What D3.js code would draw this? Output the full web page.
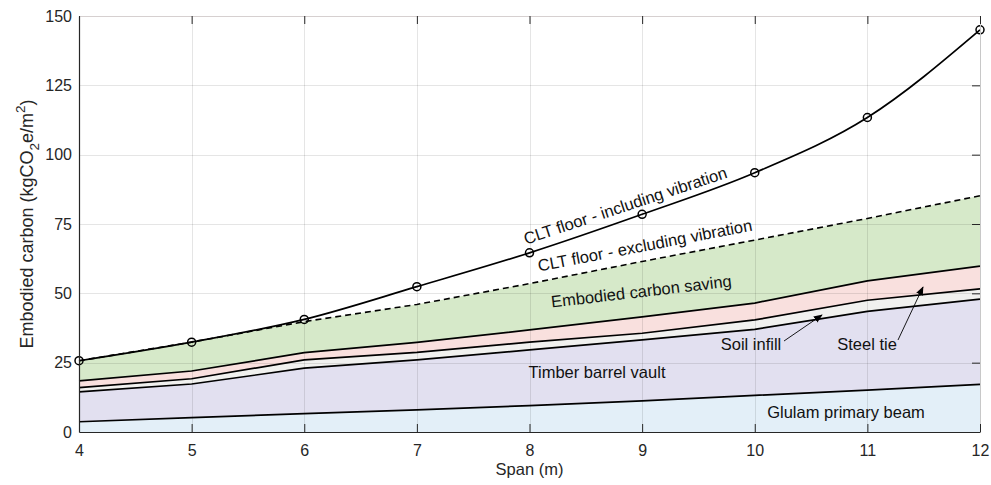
<!DOCTYPE html>
<html>
<head>
<meta charset="utf-8">
<script src="https://cdn.jsdelivr.net/npm/d3@7"></script>
<style>
  html, body { margin: 0; padding: 0; background: #fff; }
  svg { display: block; font-family: Arial, "Liberation Sans", sans-serif; }
</style>
</head>
<body>
<svg id="chart" width="991" height="485"></svg>
<script>
// ---- Data ----
const spans = [4, 5, 6, 7, 8, 9, 10, 11, 12];
const glulamBeam   = [3.7, 5.2, 6.6, 8.0, 9.5, 11.2, 13.2, 15.1, 17.2];
const timberVault  = [10.8, 12.1, 16.4, 18.0, 20.1, 22.0, 23.8, 28.4, 30.7];
const soilInfill   = [1.5, 1.9, 3.0, 2.7, 2.8, 2.4, 3.4, 4.0, 3.7];
const steelTie     = [2.4, 2.8, 2.6, 3.6, 4.4, 5.9, 6.1, 7.0, 8.2];
const cltExcluding = [25.7, 32.4, 39.8, 46.0, 53.5, 61.5, 69.2, 77.0, 85.2];
const cltIncluding = [25.7, 32.4, 40.6, 52.4, 64.6, 78.5, 93.5, 113.4, 145.0];
const yTicks = [0, 25, 50, 75, 100, 125, 150];
const xTicks = [4, 5, 6, 7, 8, 9, 10, 11, 12];
const layerKeys = ["glulam", "vault", "soil", "steel"];
const layerColors = { glulam: "#e3eff8", vault: "#e2e0f0", soil: "#f1f1ef", steel: "#f9e0de" };
const savingColor = "#d6e9c9";

// ---- Setup ----
const svg = d3.select("#chart");
const W = 991, H = 485;
const m = { left: 79, right: 11, top: 16, bottom: 53 };
const x = d3.scaleLinear().domain([4, 12]).range([m.left, W - m.right]);
const y = d3.scaleLinear().domain([0, 150]).range([H - m.bottom, m.top]);

const rows = spans.map((s, i) => ({
  span: s, glulam: glulamBeam[i], vault: timberVault[i], soil: soilInfill[i],
  steel: steelTie[i], excl: cltExcluding[i], incl: cltIncluding[i]
}));
const stacked = d3.stack().keys(layerKeys)(rows);

// ---- Fills ----
const area = d3.area().x((d) => x(d.data.span)).y0((d) => y(d[0])).y1((d) => y(d[1]));
svg.append("g").selectAll("path").data(stacked).join("path")
  .attr("d", area).attr("fill", (d) => layerColors[d.key]).attr("stroke", "none");

const topStack = stacked[stacked.length - 1];
const savingArea = d3.area()
  .x((d, i) => x(spans[i]))
  .y0((d, i) => y(topStack[i][1]))
  .y1((d) => y(d));
svg.append("path").datum(cltExcluding).attr("d", savingArea).attr("fill", savingColor);

// ---- Grid (on top of fills, like MATLAB layer top) ----
const grid = svg.append("g").attr("stroke", "#000").attr("stroke-opacity", 0.1).attr("stroke-width", 1);
grid.selectAll("line.h").data(yTicks.filter(t => t > 0 && t < 150)).join("line")
  .attr("x1", x(4)).attr("x2", x(12))
  .attr("y1", (d) => Math.round(y(d)) + 0.5).attr("y2", (d) => Math.round(y(d)) + 0.5);
grid.selectAll("line.v").data(xTicks.filter(t => t > 4 && t < 12)).join("line")
  .attr("y1", y(0)).attr("y2", y(150))
  .attr("x1", (d) => Math.round(x(d)) + 0.5).attr("x2", (d) => Math.round(x(d)) + 0.5);

// ---- Boundary lines ----
const lineGen = d3.line().x((d) => x(d[0])).y((d) => y(d[1]));
stacked.forEach((layer) => {
  svg.append("path")
    .datum(layer.map((d) => [d.data.span, d[1]]))
    .attr("d", lineGen).attr("fill", "none").attr("stroke", "#000").attr("stroke-width", 1.7);
});
svg.append("path")
  .datum(spans.map((s, i) => [s, cltExcluding[i]]))
  .attr("d", lineGen).attr("fill", "none").attr("stroke", "#000")
  .attr("stroke-width", 1.6).attr("stroke-dasharray", "6,4");

const smooth = d3.line().x((d) => x(d[0])).y((d) => y(d[1])).curve(d3.curveMonotoneX);
svg.append("path")
  .datum(spans.map((s, i) => [s, cltIncluding[i]]))
  .attr("d", smooth).attr("fill", "none").attr("stroke", "#000").attr("stroke-width", 1.7);
svg.append("g").selectAll("circle").data(spans.map((s, i) => [s, cltIncluding[i]])).join("circle")
  .attr("cx", (d) => x(d[0])).attr("cy", (d) => y(d[1])).attr("r", 4)
  .attr("fill", "none").attr("stroke", "#000").attr("stroke-width", 1.5);

// ---- Axes / box ----
const axisColor = "#262626";
svg.append("line").attr("x1", x(12) + 0.5).attr("x2", x(12) + 0.5).attr("y1", y(0)).attr("y2", y(150))
  .attr("stroke", "#c8c8c8");
svg.append("line").attr("x1", x(4)).attr("x2", x(12)).attr("y1", Math.round(y(150)) + 0.5).attr("y2", Math.round(y(150)) + 0.5)
  .attr("stroke", "#d6d0d0");

const xAxisB = d3.axisBottom(x).tickValues(xTicks).tickFormat(d3.format("d")).tickSizeInner(-8).tickSizeOuter(0).tickPadding(13);
const gxb = svg.append("g").attr("transform", `translate(0,${y(0)})`).call(xAxisB);
const xAxisT = d3.axisTop(x).tickValues(xTicks).tickFormat("").tickSizeInner(-8).tickSizeOuter(0);
const gxt = svg.append("g").attr("transform", `translate(0,${y(150)})`).call(xAxisT);
gxt.select(".domain").remove();
const yAxisL = d3.axisLeft(y).tickValues(yTicks).tickFormat(d3.format("d")).tickSizeInner(0).tickSizeOuter(0).tickPadding(7);
const gyl = svg.append("g").attr("transform", `translate(${x(4)},0)`).call(yAxisL);
const yAxisR = d3.axisRight(y).tickValues(yTicks.filter(t => t > 0 && t < 150)).tickFormat("").tickSizeInner(-8).tickSizeOuter(0);
const gyr = svg.append("g").attr("transform", `translate(${x(12)},0)`).call(yAxisR);
gyr.select(".domain").remove();

[gxb, gxt, gyl, gyr].forEach((g) => {
  g.selectAll(".domain").attr("stroke", axisColor).attr("stroke-width", 1.2);
  g.selectAll(".tick line").attr("stroke", axisColor);
  g.selectAll(".tick text").attr("fill", "#262626").style("font-size", "16px")
    .style("font-family", "Arial, 'Liberation Sans', sans-serif");
});

// ---- Axis titles ----
svg.append("text").attr("x", (x(4) + x(12)) / 2).attr("y", 475).attr("text-anchor", "middle")
  .style("font-size", "16.5px").attr("fill", "#262626").text("Span (m)");

const yl = svg.append("text").attr("transform", `translate(33,${(y(0) + y(150)) / 2}) rotate(-90)`)
  .attr("text-anchor", "middle").style("font-size", "18px").attr("fill", "#262626");
yl.append("tspan").text("Embodied carbon (kgCO");
yl.append("tspan").attr("dy", 6).style("font-size", "13.5px").text("2");
yl.append("tspan").attr("dy", -6).text("e/m");
yl.append("tspan").attr("dy", -8).style("font-size", "13.5px").text("2");
yl.append("tspan").attr("dy", 8).text(")");

// ---- Annotations ----
const labelFont = "16.5px";
function rotLabel(txt, cx, cy, ang) {
  svg.append("text").attr("transform", `translate(${cx},${cy}) rotate(${ang})`)
    .attr("text-anchor", "middle").style("font-size", labelFont).attr("fill", "#111").text(txt);
}
rotLabel("CLT floor - including vibration", 627, 211, -18.4);
rotLabel("CLT floor - excluding vibration", 646, 251, -10.8);
rotLabel("Embodied carbon saving", 642, 297, -6.7);

function flatLabel(txt, cx, by) {
  svg.append("text").attr("x", cx).attr("y", by).attr("text-anchor", "middle")
    .style("font-size", labelFont).attr("fill", "#111").text(txt);
}
flatLabel("Timber barrel vault", 597, 378);
flatLabel("Glulam primary beam", 846, 418);
flatLabel("Soil infill", 751, 350);
flatLabel("Steel tie", 867, 350);

svg.append("defs").append("marker").attr("id", "ah").attr("viewBox", "0 0 10 10")
  .attr("refX", 9).attr("refY", 5).attr("markerWidth", 9).attr("markerHeight", 9)
  .attr("markerUnits", "userSpaceOnUse").attr("orient", "auto")
  .append("path").attr("d", "M0,1 L10,5 L0,9 Z").attr("fill", "#000");
svg.append("line").attr("x1", 784).attr("y1", 341).attr("x2", 822).attr("y2", 315)
  .attr("stroke", "#000").attr("stroke-width", 0.9).attr("marker-end", "url(#ah)");
svg.append("line").attr("x1", 898).attr("y1", 340).attr("x2", 923).attr("y2", 287)
  .attr("stroke", "#000").attr("stroke-width", 0.9).attr("marker-end", "url(#ah)");
</script>
</body>
</html>
